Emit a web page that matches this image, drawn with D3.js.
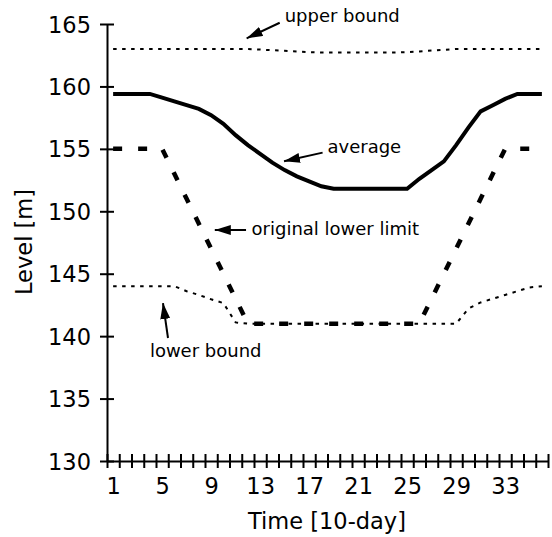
<!DOCTYPE html>
<html>
<head>
<meta charset="utf-8">
<script src="https://cdn.jsdelivr.net/npm/d3@7"></script>
<style>
  body { margin: 0; background: #fff; }
  text { font-family: "DejaVu Sans", Verdana, sans-serif; fill: #000; }
</style>
</head>
<body>
<svg width="552" height="537"></svg>
<script>
// time steps (10-day periods)
let periods = d3.range(1, 37);

// water levels [m], one value per period
let average = [159.4, 159.4, 159.4, 159.4, 159.1, 158.8, 158.5, 158.2, 157.7, 157.0,
    156.1, 155.3, 154.6, 153.9, 153.3, 152.8, 152.4, 152.0, 151.8, 151.8,
    151.8, 151.8, 151.8, 151.8, 151.8, 152.6, 153.3, 154.0, 155.3, 156.7,
    158.0, 158.5, 159.0, 159.4, 159.4, 159.4];
let originalLower = [155, 155, 155, 155, 155, 153, 151, 149, 147, 145,
    143, 141, 141, 141, 141, 141, 141, 141, 141, 141,
    141, 141, 141, 141, 141, 141, 143, 145, 147, 149,
    151, 153, 155, 155, 155, 155];
let lowerBound = [144, 144, 144, 144, 144, 144, 143.6, 143.3, 142.95, 142.65,
    141.1, 141, 141, 141, 141, 141, 141, 141, 141, 141,
    141, 141, 141, 141, 141, 141, 141, 141, 141, 142.2,
    142.7, 143.0, 143.3, 143.6, 143.9, 144];
let upperBound = [163, 163, 163, 163, 163, 163, 163, 163, 163, 163,
    163, 163, 162.95, 162.9, 162.85, 162.8, 162.75, 162.72, 162.72, 162.72,
    162.72, 162.72, 162.72, 162.72, 162.75, 162.8, 162.87, 162.93, 163, 163,
    163, 163, 163, 163, 163, 163];

let yTicks = [130, 135, 140, 145, 150, 155, 160, 165];
let xLabels = [1, 5, 9, 13, 17, 21, 25, 29, 33];

// annotation labels: text anchor and arrow (from -> tip) in data units
let notes = [
    {label: "upper bound", tx: 15.0, ty: 165.2, from: [14.6, 165.1], to: [11.9, 163.85]},
    {label: "average", tx: 18.5, ty: 154.7, from: [18.1, 154.7], to: [14.95, 154.0]},
    {label: "original lower limit", tx: 12.3, ty: 148.1, from: [11.85, 148.5], to: [9.3, 148.5]},
    {label: "lower bound", tx: 4.0, ty: 138.3, from: [5.48, 139.85], to: [5.07, 142.65]}
];

function drawChart() {
    let svg = d3.select("svg");

    let x = d3.scaleLinear().domain([0.5, 36.5]).range([107, 548]);
    let y = d3.scaleLinear().domain([130, 165]).range([461, 24]);

    svg.append("defs").append("marker")
        .attr("id", "head")
        .attr("markerUnits", "userSpaceOnUse")
        .attr("markerWidth", 17)
        .attr("markerHeight", 11)
        .attr("refX", 16)
        .attr("refY", 5)
        .attr("orient", "auto")
        .append("path")
        .attr("d", "M0,0 L16,5 L0,10 Z")
        .attr("fill", "#000");

    // y axis
    let yAxis = svg.append("g")
        .attr("transform", "translate(107,0)")
        .call(d3.axisLeft(y).tickValues(yTicks).tickSize(7).tickSizeOuter(0).tickPadding(9));
    yAxis.selectAll(".tick line").attr("x1", 7).attr("stroke-width", 2);
    yAxis.selectAll(".tick text").style("font-size", "22.5px").attr("dy", "0.36em");

    // x axis: ticks at period boundaries, labels every 4 periods
    let xAxis = svg.append("g")
        .attr("transform", "translate(0,461)")
        .call(d3.axisBottom(x).tickValues(d3.range(0.5, 37, 1)).tickSize(7).tickSizeOuter(0).tickFormat(""));
    xAxis.selectAll(".tick line").attr("y1", -7).attr("stroke-width", 2);

    let xLab = svg.append("g")
        .attr("transform", "translate(0,461)")
        .call(d3.axisBottom(x).tickValues(xLabels).tickSize(0).tickPadding(17));
    xLab.select(".domain").remove();
    xLab.selectAll(".tick text").style("font-size", "22.5px");

    svg.selectAll(".domain").attr("stroke-width", 2);

    // axis titles
    svg.append("text")
        .attr("x", 327)
        .attr("y", 529)
        .attr("text-anchor", "middle")
        .style("font-size", "22.5px")
        .text("Time [10-day]");

    svg.append("text")
        .attr("transform", "translate(32,242) rotate(-90)")
        .attr("text-anchor", "middle")
        .style("font-size", "22.5px")
        .text("Level [m]");

    // lines
    let series = [
        {values: upperBound, width: 2, dash: "3.5,5.5"},
        {values: lowerBound, width: 2, dash: "3.5,5.5"},
        {values: originalLower, width: 4.5, dash: "9,16"},
        {values: average, width: 4, dash: null}
    ];

    let line = d3.line()
        .x(function (d, i) { return x(periods[i]); })
        .y(function (d) { return y(d); });

    svg.append("g").selectAll("path")
        .data(series)
        .enter()
        .append("path")
        .attr("d", function (d) { return line(d.values); })
        .attr("fill", "none")
        .attr("stroke", "#000")
        .attr("stroke-width", function (d) { return d.width; })
        .attr("stroke-dasharray", function (d) { return d.dash; });

    // annotations
    let ann = svg.append("g").selectAll("g")
        .data(notes)
        .enter()
        .append("g");

    ann.append("line")
        .attr("x1", function (d) { return x(d.from[0]); })
        .attr("y1", function (d) { return y(d.from[1]); })
        .attr("x2", function (d) { return x(d.to[0]); })
        .attr("y2", function (d) { return y(d.to[1]); })
        .attr("stroke", "#000")
        .attr("stroke-width", 2)
        .attr("marker-end", "url(#head)");

    ann.append("text")
        .attr("x", function (d) { return x(d.tx); })
        .attr("y", function (d) { return y(d.ty); })
        .style("font-size", "18px")
        .text(function (d) { return d.label; });
}

drawChart();
</script>
</body>
</html>
